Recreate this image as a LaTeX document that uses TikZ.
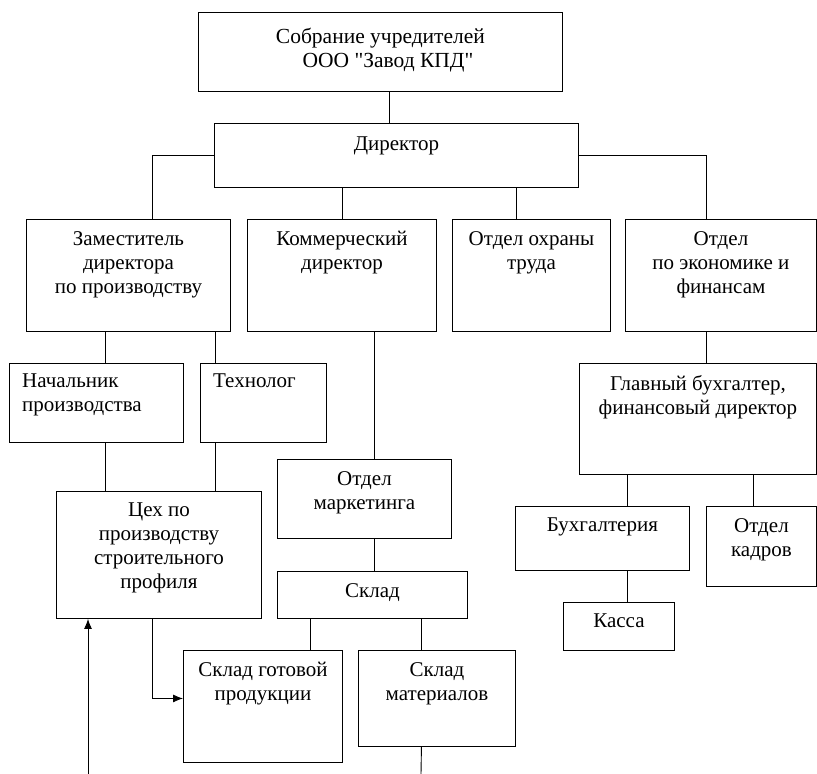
\documentclass[tikz,border=0pt]{standalone}
\usepackage{fontspec}
\setmainfont{Liberation Serif}
\newfontfamily\plainserif{Liberation Serif}
\usetikzlibrary{arrows.meta}

\begin{document}
\begin{tikzpicture}[x=1pt, y=-1pt,
    unit/.style={draw, line width=0.9pt, anchor=north west, inner sep=0pt},
    boxtext/.style={anchor=north, align=center, inner sep=0pt, font=\fontsize{21}{24}\selectfont},
    boxtextl/.style={boxtext, anchor=north west, align=left},
    link/.style={line width=0.9pt},
    feed/.style={link, -{Latex[length=10pt, width=8pt]}}]
            \useasboundingbox (0,0) rectangle (817,774);

            % boxes
            \node[unit, minimum width=364pt, minimum height=79pt]  (sobr)  at (198,12)  {};
            \node[unit, minimum width=364pt, minimum height=64pt]  (dir)   at (214,123) {};
            \node[unit, minimum width=204pt, minimum height=112pt] (zam)   at (26,219)  {};
            \node[unit, minimum width=189pt, minimum height=112pt] (kom)   at (247,219) {};
            \node[unit, minimum width=158pt, minimum height=112pt] (ohr)   at (452,219) {};
            \node[unit, minimum width=191pt, minimum height=112pt] (ekon)  at (625,219) {};
            \node[unit, minimum width=174pt, minimum height=79pt]  (nach)  at (9,363)   {};
            \node[unit, minimum width=126pt, minimum height=79pt]  (tech)  at (200,363) {};
            \node[unit, minimum width=237pt, minimum height=111pt] (glav)  at (579,363) {};
            \node[unit, minimum width=174pt, minimum height=79pt]  (mark)  at (277,459) {};
            \node[unit, minimum width=205pt, minimum height=127pt] (ceh)   at (56,491)  {};
            \node[unit, minimum width=174pt, minimum height=64pt]  (buh)   at (515,506) {};
            \node[unit, minimum width=110pt, minimum height=80pt]  (kadr)  at (706,506) {};
            \node[unit, minimum width=190pt, minimum height=47pt]  (sklad) at (277,571) {};
            \node[unit, minimum width=111pt, minimum height=48pt]  (kassa) at (563,602) {};
            \node[unit, minimum width=159pt, minimum height=112pt] (gotov) at (183,650) {};
            \node[unit, minimum width=157pt, minimum height=96pt]  (mater) at (358,650) {};

            % texts
            \node[boxtext, anchor=center, font=\plainserif\fontsize{21.5}{24}\selectfont] (sobr-t) at ([yshift=2pt]sobr.center)
                {Собрание учредителей\\\hspace*{0.7em}ООО "Завод КПД"};
            \node[boxtext] (dir-t)   at ([yshift=-14pt]dir.north)   {Директор};
            \node[boxtext] (zam-t)   at ([yshift=-12pt]zam.north)   {Заместитель\\директора\\по производству};
            \node[boxtext] (kom-t)   at ([yshift=-12pt]kom.north)   {Коммерческий\\директор};
            \node[boxtext] (ohr-t)   at ([yshift=-12pt]ohr.north)   {Отдел охраны\\труда};
            \node[boxtext] (ekon-t)  at ([yshift=-12pt]ekon.north)  {Отдел\\по экономике и\\финансам};
            \node[boxtextl] (nach-t) at ([xshift=13pt, yshift=-11pt]nach.north west) {Начальник\\производства};
            \node[boxtextl] (tech-t) at ([xshift=13pt, yshift=-11pt]tech.north west) {Технолог};
            \node[boxtext] (glav-t)  at ([yshift=-12pt]glav.north)  {Главный бухгалтер,\\финансовый директор};
            \node[boxtext] (mark-t)  at ([yshift=-12pt]mark.north)  {Отдел\\маркетинга};
            \node[boxtext] (ceh-t)   at ([yshift=-12pt]ceh.north)   {Цех по\\производству\\строительного\\профиля};
            \node[boxtext] (buh-t)   at ([yshift=-12pt]buh.north)   {Бухгалтерия};
            \node[boxtext] (kadr-t)  at ([yshift=-12pt]kadr.north)  {Отдел\\кадров};
            \node[boxtext] (sklad-t) at ([yshift=-12pt]sklad.north) {Склад};
            \node[boxtext] (kassa-t) at ([yshift=-12pt]kassa.north) {Касса};
            \node[boxtext] (gotov-t) at ([yshift=-12pt]gotov.north) {Склад готовой\\продукции};
            \node[boxtext] (mater-t) at ([yshift=-12pt]mater.north) {Склад\\материалов};

            % connectors
            \coordinate (sobrout) at ([xshift=9pt]sobr.south);
            \coordinate (zamin)   at ([xshift=24pt]zam.north);
            \coordinate (ekonin)  at ([xshift=-14.5pt]ekon.north);
            \coordinate (ohrin)   at ([xshift=-15pt]ohr.north);
            \coordinate (nachin)  at ([xshift=9pt]nach.north);
            \coordinate (techin)  at ([xshift=-48pt]tech.north);
            \coordinate (markin)  at ([xshift=10pt]mark.north);
            \coordinate (gotovin) at ([xshift=47.5pt]gotov.north);
            \coordinate (materin) at ([xshift=-15.5pt]mater.north);
            \coordinate (buhin)   at ([xshift=25pt]buh.north);
            \coordinate (kadrin)  at ([xshift=-8pt]kadr.north);
            \coordinate (cehout)  at ([xshift=-6.5pt]ceh.south);
            \coordinate (gotside) at ([yshift=8pt]gotov.west);
            \coordinate (materend) at (421,774);
            \coordinate (supply)  at (88,774);

            \draw[link] (sobrout) -- (sobrout |- dir.north);
            \draw[link] (dir.west) -| (zamin);
            \draw[link] (dir.east) -| (ekonin);
            \draw[link] (kom.north |- dir.south) -- (kom.north);
            \draw[link] (ohrin |- dir.south) -- (ohrin);
            \draw[link] (nachin |- zam.south) -- (nachin);
            \draw[link] (techin |- zam.south) -- (techin |- tech.north);
            \draw[link] (nachin |- nach.south) -- (nachin |- ceh.north);
            \draw[link] (techin |- tech.south) -- (techin |- ceh.north);
            \draw[link] (markin |- kom.south) -- (markin);
            \draw[link] (markin |- mark.south) -- (markin |- sklad.north);
            \draw[link] (gotovin |- sklad.south) -- (gotovin);
            \draw[link] (materin |- sklad.south) -- (materin);
            \draw[link] (materin |- mater.south) -- (materend);
            \draw[link] (ekonin |- ekon.south) -- (ekonin |- glav.north);
            \draw[link] (buhin |- glav.south) -- (buhin);
            \draw[link] (kadrin |- glav.south) -- (kadrin);
            \draw[link] (buhin |- buh.south) -- (buhin |- kassa.north);
            \draw[feed] (cehout) |- (gotside);
            \draw[feed] (supply) -- (supply |- ceh.south);
        \end{tikzpicture}
\end{document}
